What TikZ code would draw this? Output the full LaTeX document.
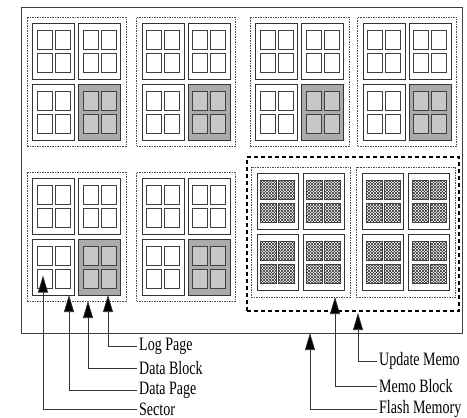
\documentclass[tikz,border=0pt]{standalone}
\usepackage{fontspec}
\setmainfont{Liberation Serif}
\usepackage{graphicx}
\usetikzlibrary{calc,arrows.meta,patterns}
\newcommand{\tallLabel}[1]{\scalebox{1}[1.35]{#1}}

\begin{document}
\begin{tikzpicture}[x=1pt, y=-1pt,
  flashbox/.style={draw=black!75, line width=0.8pt, inner sep=0pt, outer sep=0pt,
               minimum width=441pt, minimum height=326pt},
  memoregion/.style={draw=black, line width=2.6pt, dash pattern=on 4pt off 3pt,
               inner sep=0pt, outer sep=0pt, minimum width=212pt, minimum height=154pt},
  blockbox/.style={draw=black!70, line width=0.6pt, dash pattern=on 1.5pt off 1pt,
               inner sep=0pt, outer sep=0pt, minimum width=99pt, minimum height=129pt},
  datapage/.style={draw=black!80, line width=0.8pt, fill=white, inner sep=0pt,
               outer sep=0pt, minimum width=42pt, minimum height=56pt},
  logpage/.style={datapage, fill=black!33},
  datasector/.style={draw=black!75, line width=1pt, fill=white, inner sep=0pt,
               outer sep=0pt, minimum width=15pt, minimum height=19pt},
  logsector/.style={datasector, fill=black!22},
  memosector/.style={datasector, minimum width=16pt,
               preaction={pattern=north east lines, pattern color=black!80},
               pattern=north west lines, pattern color=black!80},
  lbl/.style={anchor=west, inner sep=2.5pt, font=\fontsize{14}{16}\selectfont},
  lead/.style={draw=black!80, line width=0.7pt,
               -{Triangle[length=17pt, width=10pt, fill=black]}},
]
\useasboundingbox (0,0) rectangle (467,418);

\node[flashbox] (flash) at (241.5,170) {};
\node[memoregion] (memo) at (353,234) {};

% data blocks: page 4 holds the log
\foreach \b/\bx/\by in {b1/76.5/81.5, b2/186/81.5, b3/299.5/81.5, b4/407/81.5,
                        b5/76.5/236.5, b6/186/236.5} {
  \node[blockbox] (\b) at (\bx,\by) {};
  \foreach \p/\px/\py in {1/-23/-30.5, 2/23/-30.5, 3/-23/30.5, 4/23/30.5} {
    \ifnum\p=4 \def\pg{logpage}\def\sc{logsector}\else \def\pg{datapage}\def\sc{datasector}\fi
    \node[\pg] (\b-p\p) at ($(\b)+(\px,\py)$) {};
    \foreach \s/\sx/\sy in {1/-9/-11.5, 2/9/-11.5, 3/-9/11.5, 4/9/11.5}
      \node[\sc] (\b-p\p-s\s) at ($(\b-p\p)+(\sx,\sy)$) {};
  }
}

% memo blocks
\foreach \b/\bx/\by in {m1/300.5/232, m2/406/232} {
  \node[blockbox, minimum height=130pt] (\b) at (\bx,\by) {};
  \foreach \p/\px/\py in {1/-23/-30.5, 2/23/-30.5, 3/-23/30.5, 4/23/30.5} {
    \node[datapage, minimum width=41pt] (\b-p\p) at ($(\b)+(\px,\py)$) {};
    \foreach \s/\sx/\sy in {1/-9/-11.5, 2/9/-11.5, 3/-9/11.5, 4/9/11.5}
      \node[memosector] (\b-p\p-s\s) at ($(\b-p\p)+(\sx,\sy)$) {};
  }
}

% labels
\node[lbl] (logpg) at (136.5,346) {\tallLabel{Log Page}};
\node[lbl] (datablk) at (136.5,368) {\tallLabel{Data Block}};
\node[lbl] (datapg) at (136.5,390) {\tallLabel{Data Page}};
\node[lbl] (sector) at (136.5,409) {\tallLabel{Sector}};
\node[lbl] (updmemo) at (376.5,361) {\tallLabel{Update Memo}};
\node[lbl] (memoblk) at (376.5,386) {\tallLabel{Memo Block}};
\node[lbl] (flashmem) at (376.5,409) {\tallLabel{Flash Memory}};

\draw[lead] (logpg.west) -| ([xshift=8.5pt]b5-p4.south);
\draw[lead] (datablk.west) -| ([xshift=11.5pt]b5.south);
\draw[lead] (datapg.west) -| ([xshift=15.5pt]b5-p3.south);
\draw[lead] (sector.west) -| ([xshift=-1.5pt,yshift=3pt]b5-p3-s3.center);
\draw[lead] (updmemo.west) -| ([xshift=5pt,yshift=-2pt]memo.south);
\draw[lead] (memoblk.west) -| ([xshift=-15pt]m1.south east);
\draw[lead] (flashmem.west) -| ([xshift=68.5pt]flash.south);

\end{tikzpicture}
\end{document}
